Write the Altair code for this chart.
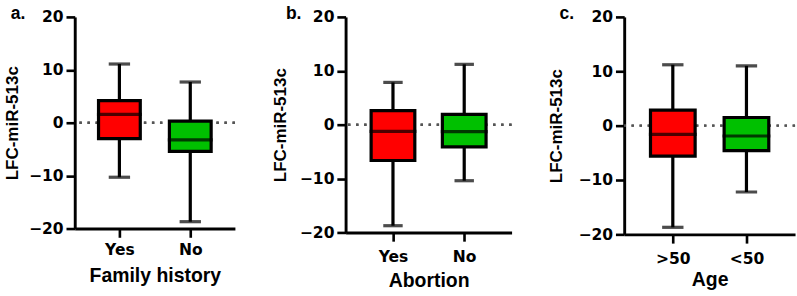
import altair as alt
import pandas as pd

# ---- data ----
panel_labels = ["a.", "b.", "c."]
x_titles = ["Family history", "Abortion", "Age"]
y_title = "LFC-miR-513c"

groups_a = ["Yes", "No"]
low_a = [-10.3, -18.7]
q1_a = [-3.0, -5.4]
med_a = [1.6, -3.25]
q3_a = [4.2, 0.3]
high_a = [11.1, 7.7]

groups_b = ["Yes", "No"]
low_b = [-18.75, -10.4]
q1_b = [-6.65, -4.1]
med_b = [-1.26, -1.3]
q3_b = [2.6, 1.9]
high_b = [7.85, 11.2]

groups_c = [">50", "<50"]
low_c = [-18.7, -12.2]
q1_c = [-5.6, -4.6]
med_c = [-1.6, -1.9]
q3_c = [2.86, 1.5]
high_c = [11.2, 11.0]

y_ticks = [-20, -10, 0, 10, 20]
box_colors = ["#FF0000", "#00C000"]

TFONT = "Liberation Sans"
LFONT = "DejaVu Sans"
LW = 3.3


def panel(label, groups, low, q1, med, q3, high, xtitle, width, height,
          pad, box_w, cap_w, title_pad, label_dx, x_lpad, x_tpad):
    df = pd.DataFrame({"group": groups, "low": low, "q1": q1, "median": med,
                       "q3": q3, "high": high})
    yscale = alt.Scale(domain=[-20, 20], nice=False, zero=False)
    x = alt.X("group:N", sort=groups,
              scale=alt.Scale(type="point", padding=pad),
              axis=alt.Axis(title=xtitle, labelAngle=0, labelFont=LFONT,
                            labelFontSize=16, labelFontWeight="bold",
                            labelColor="black", titleFont=TFONT,
                            titleFontSize=20, titleFontWeight="bold",
                            titleColor="black", titlePadding=x_tpad,
                            domainColor="black", domainWidth=3,
                            tickColor="black", tickWidth=2.7, tickSize=9,
                            labelPadding=x_lpad))
    yaxis = alt.Axis(title=y_title, values=y_ticks, grid=False,
                     labelFont=LFONT, labelFontSize=16,
                     labelFontWeight="bold", labelColor="black",
                     titleFont=TFONT, titleFontSize=17.5,
                     titleFontWeight="bold", titleColor="black",
                     titlePadding=title_pad, domainColor="black",
                     domainWidth=3, tickColor="black", tickWidth=2.7,
                     tickSize=9, labelPadding=3)
    base = alt.Chart(df).encode(x=x)
    zero = alt.Chart(df).mark_rule(strokeDash=[2.5, 5.8], color="#555555",
                                   strokeWidth=2.5).encode(
        y=alt.datum(0, scale=yscale, axis=yaxis))
    whisk = base.mark_rule(color="black", strokeWidth=LW).encode(
        y=alt.Y("low:Q", scale=yscale, axis=yaxis), y2="high:Q")
    cap_lo = base.mark_tick(color="black", size=cap_w, thickness=LW).encode(
        y=alt.Y("low:Q", scale=yscale, axis=yaxis))
    cap_hi = base.mark_tick(color="black", size=cap_w, thickness=LW).encode(
        y=alt.Y("high:Q", scale=yscale, axis=yaxis))
    box = base.mark_bar(size=box_w, stroke="black", strokeWidth=LW,
                        opacity=1).encode(
        y=alt.Y("q1:Q", scale=yscale, axis=yaxis), y2="q3:Q",
        color=alt.Color("group:N", scale=alt.Scale(domain=groups,
                                                   range=box_colors),
                        legend=None))
    medl = base.mark_tick(color="black", size=box_w + LW,
                          thickness=LW).encode(
        y=alt.Y("median:Q", scale=yscale, axis=yaxis))
    lab = alt.Chart(pd.DataFrame({"t": [label]})).mark_text(
        align="left", baseline="alphabetic", font=TFONT, fontSize=18,
        fontWeight="bold", color="black").encode(
        x=alt.value(label_dx), y=alt.value(2), text="t:N")
    return alt.layer(zero, whisk, cap_lo, cap_hi, box, medl, lab).properties(
        width=width, height=height)


pa = panel(panel_labels[0], groups_a, low_a, q1_a, med_a, q3_a, high_a,
           x_titles[0], 165, 218, 0.63, 43, 22, 7.6, -66, 5, 9)
pb = panel(panel_labels[1], groups_b, low_b, q1_b, med_b, q3_b, high_b,
           x_titles[1], 171, 222, 0.665, 45, 20, 10.6, -61.5, 7.5, 7)
pc = panel(panel_labels[2], groups_c, low_c, q1_c, med_c, q3_c, high_c,
           x_titles[2], 176, 224, 0.66, 46, 22, 12.9, -66.6, 8, 4)

chart = alt.hconcat(pa, pb, pc, spacing=35).properties(
    padding={"left": 3, "top": 1, "right": 0, "bottom": 0}
).configure_view(stroke=None)

chart.save("out.html", embed_options={"renderer": "svg", "actions": False})
